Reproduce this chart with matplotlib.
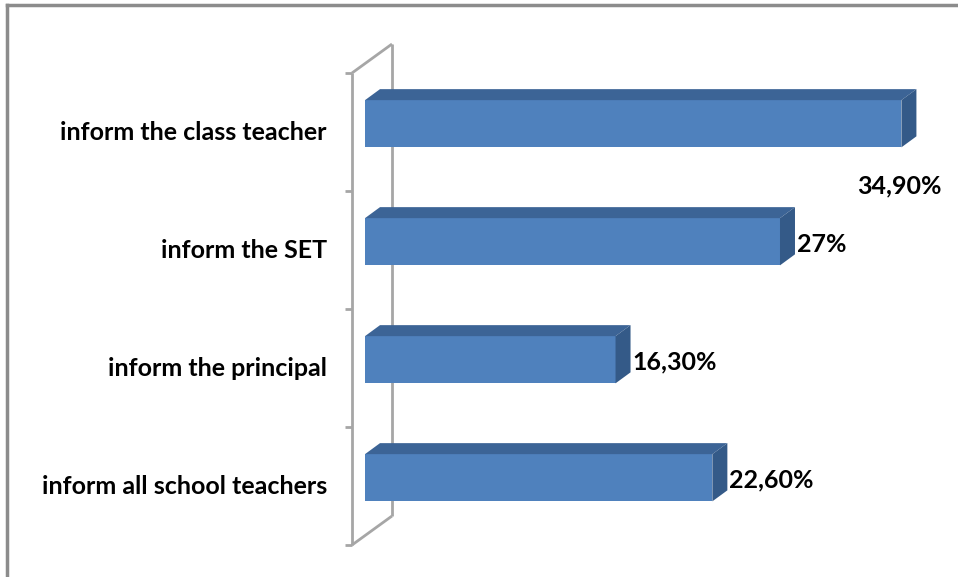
import numpy as np
import matplotlib.pyplot as plt
from matplotlib.patches import Polygon

# data
categories = ["inform the class teacher", "inform the SET",
              "inform the principal", "inform all school teachers"]
values = [34.9, 27.0, 16.3, 22.6]
value_labels = ["34,90%", "27%", "16,30%", "22,60%"]

FRONT = "#4f81bd"
TOP = "#3c6496"
SIDE = "#345a88"
WALL = "#a6a6a6"

W, H = 958, 577
fig = plt.figure(figsize=(W / 100, H / 100), dpi=100)

# axes: x=0 at px 365, 15.37 px per percent; categories 118 px apart
px_per_pct = 15.37
x_left = (352 - 365) / px_per_pct
x_right = (950 - 365) / px_per_pct
ax = fig.add_axes([352 / W, (H - 545) / H, (950 - 352) / W, (545 - 73) / H])
ax.set_xlim(x_left, x_right)
ax.set_ylim(3.5, -0.5)
for s in ax.spines.values():
    s.set_visible(False)
ax.set_xticks([])
ax.set_yticks([])

# depth offsets in data units
wall_dx, wall_dy = 40 / px_per_pct, 29 / 118
bar_dx, bar_dy = 15 / px_per_pct, 11 / 118

# back wall + floor/ceiling edges + front axis with ticks
kw = dict(color=WALL, lw=2, solid_capstyle="butt", clip_on=False)
ax.plot([x_left, x_left], [-0.5, 3.5], **kw)
ax.plot([x_left + wall_dx] * 2, [-0.5 - wall_dy, 3.5 - wall_dy], **kw)
ax.plot([x_left, x_left + wall_dx], [-0.5, -0.5 - wall_dy], **kw)
ax.plot([x_left, x_left + wall_dx], [3.5, 3.5 - wall_dy], **kw)
for b in np.arange(-0.5, 4, 1):
    ax.plot([x_left - 7 / px_per_pct, x_left], [b, b], **kw)

# bars
pos = np.arange(len(categories)) - 0.07
h = 0.40
ax.barh(pos, values, height=h, color=FRONT, zorder=3)
for y, v in zip(pos, values):
    top = y - h / 2
    bot = y + h / 2
    ax.add_patch(Polygon([(0, top), (v, top), (v + bar_dx, top - bar_dy),
                          (bar_dx, top - bar_dy)], closed=True,
                         facecolor=TOP, edgecolor="none", zorder=3))
    ax.add_patch(Polygon([(v, top), (v + bar_dx, top - bar_dy),
                          (v + bar_dx, bot - bar_dy), (v, bot)], closed=True,
                         facecolor=SIDE, edgecolor="none", zorder=3))

# value labels
font = "Lato"
for i, (y, v, lab) in enumerate(zip(pos, values, value_labels)):
    if i == 0:
        ax.text(v - 44 / px_per_pct, y + 0.53, lab, ha="left", va="center",
                fontsize=18, fontweight="bold", family=font)
    else:
        ax.text(v + bar_dx + 2 / px_per_pct, y + 0.02, lab, ha="left",
                va="center", fontsize=18, fontweight="bold", family=font)

# category labels
for y, c in zip(np.arange(len(categories)), categories):
    ax.text(x_left - 25 / px_per_pct, y, c, ha="right", va="center",
            fontsize=18, fontweight="bold", family=font)

# outer frame (left and top only)
fig.add_artist(plt.Line2D([7 / W, 7 / W], [0, 1 - 5 / H], color="#8c8c8c", lw=2.5,
                          transform=fig.transFigure))
fig.add_artist(plt.Line2D([7 / W, 1], [1 - 5 / H, 1 - 5 / H], color="#8c8c8c", lw=2.5,
                          transform=fig.transFigure))

fig.savefig("out.png", dpi=100)
